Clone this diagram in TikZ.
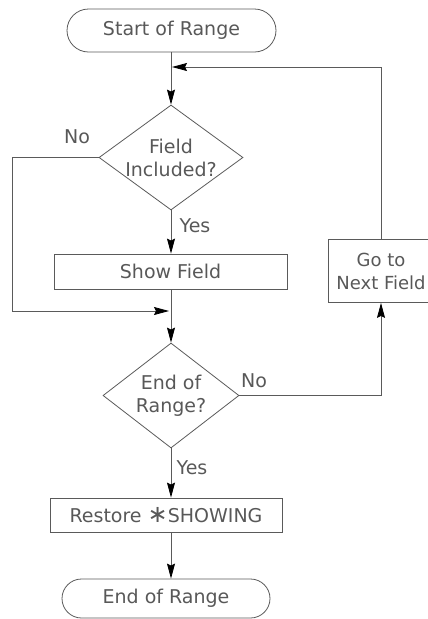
\documentclass[tikz,border=0pt]{standalone}
\usepackage{fontspec}
\setmainfont{DejaVu Sans}
\usetikzlibrary{shapes.geometric,shapes.misc,arrows.meta}
\definecolor{ink}{HTML}{5A5A5A}
\definecolor{txt}{HTML}{585858}
\begin{document}
\begin{tikzpicture}[x=1pt,y=-1pt,
  every node/.style={font=\fontsize{19}{23}\selectfont, text=txt, inner sep=0pt},
  every label/.style={font=\fontsize{19}{23}\selectfont, text=txt, inner sep=0pt, align=center},
  terminal/.style={rounded rectangle, draw=ink, line width=0.8pt},
  process/.style={rectangle, draw=ink, line width=0.8pt},
  decision/.style={diamond, draw=ink, line width=0.8pt},
  flow/.style={draw=ink, line width=0.8pt},
  arrow/.style={flow, -{Stealth[length=15pt,width=8pt,inset=2pt,color=black]}},
  answer/.style={}
]
\useasboundingbox (0,0) rectangle (428,619);
\clip (0,0) rectangle (428,619);

% boxes and decisions
\node[terminal, minimum width=209pt, minimum height=43pt] (start) at (171.5,30.5) {Start of Range};
\node[decision, minimum width=144pt, minimum height=105pt,
      label={center:Field\\Included?}] (d1) at (171,157.5) {};
\node[process, minimum width=233pt, minimum height=35pt] (show) at (170.5,271.5) {Show Field};
\node[decision, minimum width=136pt, minimum height=105pt,
      label={center:End of\\Range?}] (d2) at (171,395.5) {};
\node[process, minimum width=106pt, minimum height=63pt,
      label={[font=\fontsize{18}{23}\selectfont]center:Go to\\Next Field}] (next) at (381,271) {};
\node[process, minimum width=232pt, minimum height=34pt] (restore) at (166,515) {Restore {\fontsize{24}{24}\selectfont ∗}SHOWING};
\node[terminal, minimum width=208pt, minimum height=39pt] (end) at (166,598.5) {End of Range};

% branch labels
\node[answer] (no1) at (77,137) {No};
\node[answer] (yes1) at (195,226) {Yes};
\node[answer] (no2) at (254,381) {No};
\node[answer] (yes2) at (192,468) {Yes};

% helper points
\coordinate (loopin) at (172,67);
\coordinate (bypass) at (12,311);
\coordinate (merge) at (169,311);

% connectors
\draw[arrow] (start.south -| d1.north) -- (d1.north);
\draw[arrow] (next.north) |- (loopin);
\draw[arrow] (d1.south) -- (d1.south |- show.north);
\draw[arrow] (d1.west) -| (bypass) -- (merge);
\draw[arrow] (show.south -| d2.north) -- (d2.north);
\draw[arrow] (d2.east) -| (next.south);
\draw[arrow] (d2.south) -- (d2.south |- restore.north);
\draw[arrow] (d2.south |- restore.south) -- (d2.south |- end.north);
\end{tikzpicture}
\end{document}
